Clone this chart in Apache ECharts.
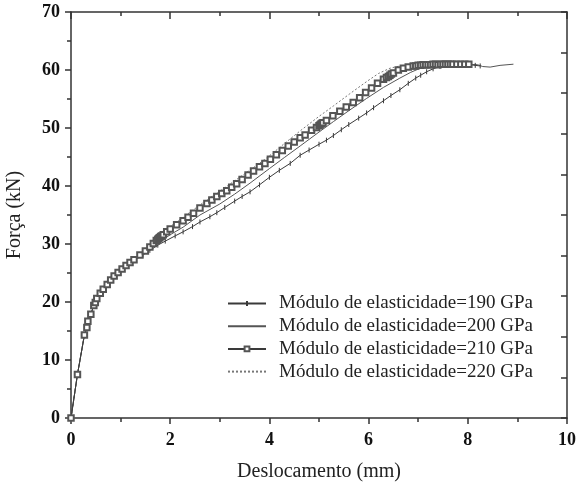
<!DOCTYPE html>
<html>
<head>
<meta charset="utf-8">
<script src="https://cdn.jsdelivr.net/npm/echarts@6/dist/echarts.min.js"></script>
<style>
html,body{margin:0;padding:0;background:#fff;}
#chart{width:587px;height:495px;}
</style>
</head>
<body>
<div id="chart"></div>
<script>
// shared initial elastic part (all curves coincide)
var startPts = [[0,0],[0.13,7.5],[0.27,14.3],[0.32,15.6],[0.34,16.7],[0.40,17.9],[0.46,19.4],[0.49,19.9],[0.52,20.6],[0.59,21.5],[0.65,22.2],[0.73,23.0],[0.80,23.8],[0.87,24.5],[0.95,25.1],[1.03,25.7],[1.11,26.3],[1.19,26.8]];

var e190 = [[1.3,27.3],[1.45,28.1],[1.59,28.9],[1.75,29.8],[1.9,30.5],[2.1,31.4],[2.26,32.1],[2.45,33.0],[2.6,33.8],[2.8,34.7],[2.94,35.4],[3.1,36.3],[3.3,37.4],[3.45,38.2],[3.61,39.0],[3.8,40.2],[4.0,41.5],[4.2,42.7],[4.42,43.9],[4.62,45.3],[4.8,46.2],[5.0,47.2],[5.15,47.9],[5.29,48.7],[5.45,49.7],[5.6,50.6],[5.8,51.7],[5.96,52.6],[6.1,53.5],[6.3,54.7],[6.45,55.6],[6.63,56.6],[6.8,57.7],[6.95,58.6],[7.05,59.1],[7.17,59.7],[7.3,60.2],[7.44,60.6],[7.6,60.8],[7.75,60.9],[7.9,61.0],[8.05,60.9],[8.15,60.8],[8.25,60.7]];

var e200 = [[1.3,27.4],[1.6,29.2],[2.0,31.6],[2.26,32.9],[2.6,35.0],[3.0,36.9],[3.3,38.6],[3.61,40.5],[4.0,43.0],[4.3,44.9],[4.62,46.9],[5.0,49.3],[5.29,51.1],[5.62,53.1],[5.96,55.1],[6.3,57.0],[6.63,58.6],[6.85,59.6],[7.04,60.3],[7.3,60.7],[7.6,60.9],[8.0,61.0],[8.2,60.9],[8.3,60.6],[8.45,60.5],[8.65,60.8],[8.92,61.0]];

var e210 = [[1.27,27.3],[1.39,28.1],[1.50,28.8],[1.59,29.5],[1.66,30.1],[1.72,30.6],[1.75,30.8],[1.77,31.0],[1.79,31.1],[1.81,31.3],[1.83,31.4],[1.86,31.6],[1.93,32.1],[2.0,32.6],[2.13,33.3],[2.26,34.0],[2.36,34.6],[2.47,35.3],[2.6,36.2],[2.74,37.0],[2.84,37.6],[2.94,38.2],[3.04,38.7],[3.14,39.2],[3.24,39.8],[3.34,40.4],[3.45,41.1],[3.57,41.9],[3.68,42.6],[3.80,43.3],[3.91,43.9],[4.02,44.6],[4.14,45.4],[4.26,46.1],[4.38,46.9],[4.50,47.6],[4.62,48.3],[4.72,48.8],[4.85,49.6],[4.95,50.1],[5.0,50.4],[5.02,50.5],[5.04,50.7],[5.06,50.8],[5.08,50.9],[5.15,51.3],[5.28,52.1],[5.42,52.9],[5.55,53.6],[5.69,54.4],[5.82,55.2],[5.94,56.1],[6.06,56.9],[6.18,57.7],[6.30,58.4],[6.36,58.7],[6.40,58.9],[6.43,59.1],[6.46,59.3],[6.50,59.5],[6.60,60.0],[6.70,60.3],[6.80,60.5],[6.90,60.7],[6.95,60.7],[7.0,60.8],[7.05,60.8],[7.1,60.9],[7.15,60.9],[7.2,60.9],[7.25,60.9],[7.3,61.0],[7.35,61.0],[7.4,60.9],[7.45,61.0],[7.5,61.0],[7.55,61.0],[7.6,61.0],[7.65,61.0],[7.7,61.0],[7.78,61.0],[7.86,61.0],[7.94,61.0],[8.02,61.0]];

var e220 = [[1.3,27.6],[1.59,29.9],[2.0,33.0],[2.26,34.6],[2.5,36.1],[2.74,37.6],[3.0,39.1],[3.25,40.6],[3.5,42.1],[3.75,43.6],[4.0,45.2],[4.3,47.3],[4.62,49.5],[5.0,52.0],[5.29,53.8],[5.62,55.9],[5.96,58.0],[6.2,59.4],[6.43,60.3],[6.63,60.7],[7.0,60.9],[7.5,61.0]];

var names = ['Módulo de elasticidade=190 GPa','Módulo de elasticidade=200 GPa','Módulo de elasticidade=210 GPa','Módulo de elasticidade=220 GPa'];
var xTicks = [0,2,4,6,8,10];
var yTicks = [0,10,20,30,40,50,60,70];

var serif = 'Liberation Serif';
var axCol = '#333';
var lineCol = '#3a3a3a';

var chart = echarts.init(document.getElementById('chart'));
chart.setOption({
  animation:false,
  backgroundColor:'#fff',
  grid:{left:71,right:20,top:12,bottom:77,containLabel:false,outerBoundsMode:'none'},
  legend:{
    orient:'vertical', left:222, top:289,
    itemWidth:38, itemHeight:6, itemGap:3.7,
    textStyle:{fontFamily:serif,fontSize:19,color:'#222',padding:[0,0,0,8]},
    data:[
      {name:names[0]},
      {name:names[1],itemStyle:{opacity:0}},
      {name:names[2]},
      {name:names[3],itemStyle:{opacity:0}}
    ]
  },
  xAxis:[{
    type:'value', min:xTicks[0], max:xTicks[xTicks.length-1], interval:2,
    position:'bottom',
    name:'Deslocamento (mm)', nameLocation:'middle', nameGap:44,
    nameTextStyle:{fontFamily:serif,fontSize:20,color:'#222'},
    axisLine:{show:true,onZero:false,lineStyle:{color:axCol,width:1.5}},
    axisTick:{show:true,inside:false,length:6,lineStyle:{color:axCol,width:1.5}},
    minorTick:{show:true,splitNumber:2,length:4,lineStyle:{color:axCol,width:1.5}},
    axisLabel:{fontFamily:serif,fontSize:18,fontWeight:'bold',color:'#111',margin:13},
    splitLine:{show:false}
  },{
    type:'value', min:0, max:10, interval:2, position:'top',
    axisLine:{show:true,onZero:false,lineStyle:{color:axCol,width:1.5}},
    axisTick:{show:true,inside:true,length:7,lineStyle:{color:axCol,width:1.5}},
    minorTick:{show:true,splitNumber:2,length:4,lineStyle:{color:axCol,width:1.5}},
    axisLabel:{show:false}, splitLine:{show:false}
  }],
  yAxis:[{
    type:'value', min:yTicks[0], max:yTicks[yTicks.length-1], interval:10,
    position:'left',
    name:'Força (kN)', nameLocation:'middle', nameGap:46, nameRotate:90,
    nameTextStyle:{fontFamily:serif,fontSize:20,color:'#222'},
    axisLine:{show:true,onZero:false,lineStyle:{color:axCol,width:1.5}},
    axisTick:{show:true,inside:false,length:6,lineStyle:{color:axCol,width:1.5}},
    minorTick:{show:true,splitNumber:2,length:4,lineStyle:{color:axCol,width:1.5}},
    axisLabel:{fontFamily:serif,fontSize:18,fontWeight:'bold',color:'#111',margin:11},
    splitLine:{show:false}
  },{
    type:'value', min:0, max:70, interval:7, position:'right',
    axisLine:{show:true,onZero:false,lineStyle:{color:axCol,width:1.5}},
    axisTick:{show:true,inside:true,length:6,lineStyle:{color:axCol,width:1.5}},
    axisLabel:{show:false}, splitLine:{show:false}
  }],
  series:[
    {name:names[0],type:'line',data:startPts.concat(e190),symbol:'line',symbolSize:5,symbolRotate:90,
     itemStyle:{color:lineCol,borderColor:lineCol,borderWidth:1},lineStyle:{color:lineCol,width:1},z:3},
    {name:names[1],type:'line',data:startPts.concat(e200),symbol:'none',
     itemStyle:{color:'#555'},lineStyle:{color:'#555',width:1},z:3},
    {name:names[2],type:'line',data:startPts.concat(e210),symbol:'emptyRect',symbolSize:5.5,
     itemStyle:{color:'#555',borderWidth:0.6},lineStyle:{color:lineCol,width:0.9},z:4},
    {name:names[3],type:'line',data:startPts.concat(e220),symbol:'none',
     itemStyle:{color:'#777'},lineStyle:{color:'#777',width:1,type:[2,2]},z:2}
  ]
});
</script>
</body>
</html>
